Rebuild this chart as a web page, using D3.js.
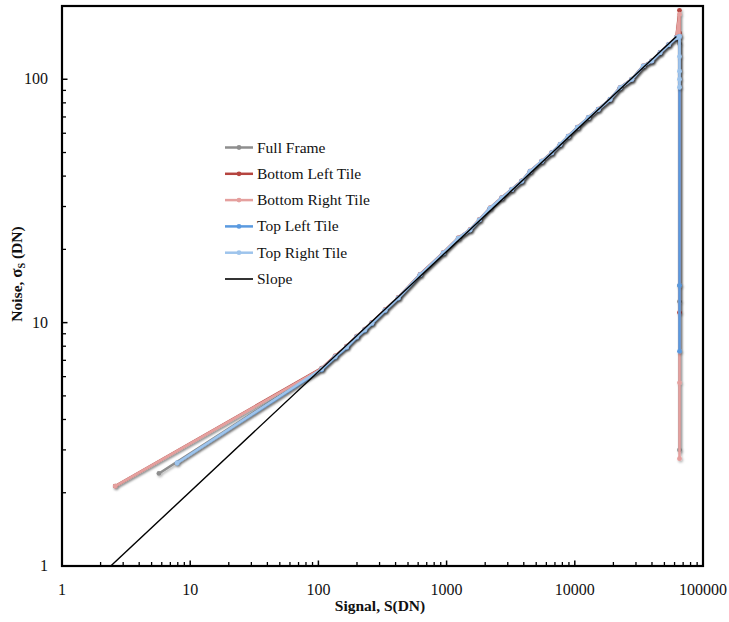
<!DOCTYPE html>
<html>
<head>
<meta charset="utf-8">
<script src="https://cdn.jsdelivr.net/npm/d3@7"></script>
<style>
  html, body { margin: 0; padding: 0; background: #fff; }
  svg { display: block; }
  text { font-family: "Liberation Serif", "Times New Roman", serif; fill: #111; }
</style>
</head>
<body>
<svg id="chart" width="729" height="622"></svg>
<script>
// ---------- data ----------
const seriesNames = ["Full Frame", "Bottom Left Tile", "Bottom Right Tile", "Top Left Tile", "Top Right Tile"];
const seriesColors = ["#8e8e8e", "#b5443f", "#e5a09e", "#5a9ae0", "#9ec4ec"];

// first (dark) exposure point of each series
const lowSignal = [5.7, 2.6, 2.6, 7.9, 7.9];
const lowNoise  = [2.4, 2.13, 2.13, 2.65, 2.65];

// common signal levels along the shot-noise region
const signalLevels = [106, 135, 166, 199, 230, 261, 331, 420, 621, 942, 1234, 1523, 1800, 2181, 2692, 3221, 3853,
  4477, 5521, 6607, 7673, 8892, 10500, 12740, 15250, 18830, 22530, 27790, 34200, 39810, 46240, 54000, 62000];

const fullFrameNoise   = [6.45, 7.25, 7.95, 8.7, 9.35, 9.95, 11.2, 12.6, 15.7, 19.3, 22.2, 24.0, 26.4, 29.5, 32.5, 35.2, 38.1,
  41.8, 45.9, 49.7, 53.8, 58.1, 63.2, 69.2, 74.9, 82.2, 91.8, 99.3, 112.5, 118.2, 127.5, 137.5, 146];
const bottomLeftNoise  = [6.5, 7.3, 8.0, 8.8, 9.4, 10.0, 11.3, 12.7, 15.8, 19.4, 22.3, 24.1, 26.5, 29.6, 32.6, 35.3, 38.2,
  41.9, 46.1, 49.9, 54.0, 58.4, 63.5, 69.6, 75.3, 82.7, 92.4, 100, 113.5, 119, 128.8, 139, 149];
const bottomRightNoise = [6.47, 7.28, 7.98, 8.78, 9.38, 9.98, 11.28, 12.68, 15.78, 19.38, 22.28, 24.08, 26.48, 29.58, 32.58, 35.28, 38.18,
  41.88, 46.08, 49.88, 53.98, 58.38, 63.48, 69.58, 75.28, 82.68, 92.38, 99.9, 113.4, 118.9, 128.6, 138.8, 148.5];
const topLeftNoise     = [6.4, 7.2, 7.9, 8.7, 9.3, 9.9, 11.2, 12.6, 15.7, 19.3, 22.2, 24.0, 26.4, 29.5, 32.5, 35.2, 38.1,
  41.8, 46.0, 49.8, 53.9, 58.3, 63.4, 69.5, 75.2, 82.6, 92.2, 99.8, 113.3, 118.8, 128.5, 138.6, 148];
const topRightNoise    = [6.45, 7.25, 7.95, 8.75, 9.35, 9.95, 11.25, 12.65, 15.75, 19.35, 22.25, 24.05, 26.45, 29.55, 32.55, 35.25, 38.15,
  41.85, 46.05, 49.85, 53.95, 58.35, 63.45, 69.55, 75.25, 82.65, 92.3, 99.9, 113.4, 118.9, 128.6, 138.8, 148.3];

// saturated exposures (all at full scale)
const saturationSignal = 65535;
const fullFrameTail   = [140, 14.2, 12.2, 3.0];
const bottomLeftTail  = [192, 155, 11];
const bottomRightTail = [185, 150, 5.66, 2.76];
const topLeftTail     = [150, 14.2, 7.62];
const topRightTail    = [150, 124, 108, 100, 92.7];

// reference slope line endpoints
const slopeSignal = [2.4, 62000];
const slopeNoise  = [1, 150];

const xTickValues = [1, 10, 100, 1000, 10000, 100000];
const yTickValues = [1, 10, 100];

// ---------- build ----------
const noiseArrays = [fullFrameNoise, bottomLeftNoise, bottomRightNoise, topLeftNoise, topRightNoise];
const tailArrays = [fullFrameTail, bottomLeftTail, bottomRightTail, topLeftTail, topRightTail];
const series = seriesNames.map((name, i) => {
  const pts = [[lowSignal[i], lowNoise[i]]];
  signalLevels.forEach((s, j) => pts.push([s, noiseArrays[i][j]]));
  tailArrays[i].forEach(n => pts.push([saturationSignal, n]));
  return { name, color: seriesColors[i], pts };
});

const svg = d3.select("#chart");
const L = 62, R = 703, T = 6, B = 566;
const x = d3.scaleLog().domain([1, 100000]).range([L, R]);
const y = d3.scaleLog().domain([1, 200]).range([B, T]);

const defs = svg.append("defs");
const f = defs.append("filter").attr("id", "shadow").attr("x", "-20%").attr("y", "-20%").attr("width", "140%").attr("height", "140%");
f.append("feDropShadow").attr("dx", 1.2).attr("dy", 1.5).attr("stdDeviation", 1.1)
  .attr("flood-color", "#000").attr("flood-opacity", 0.3);
defs.append("clipPath").attr("id", "clip").append("rect")
  .attr("x", L).attr("y", T).attr("width", R - L).attr("height", B - T);

// minor ticks
const minorX = [];
for (let d = 1; d < 100000; d *= 10) for (let k = 2; k <= 9; k++) minorX.push(d * k);
const minorY = [];
for (let d = 1; d < 200; d *= 10) for (let k = 2; k <= 9; k++) if (d * k <= 200) minorY.push(d * k);

const axisG = svg.append("g");
axisG.selectAll(".mx").data(minorX).enter().append("line")
  .attr("x1", d => x(d)).attr("x2", d => x(d)).attr("y1", B).attr("y2", B - 4)
  .attr("stroke", "#000").attr("stroke-width", 1.3);
axisG.selectAll(".Mx").data(xTickValues).enter().append("line")
  .attr("x1", d => x(d)).attr("x2", d => x(d)).attr("y1", B).attr("y2", B - 5.5)
  .attr("stroke", "#000").attr("stroke-width", 1.5);
axisG.selectAll(".my").data(minorY).enter().append("line")
  .attr("y1", d => y(d)).attr("y2", d => y(d)).attr("x1", L).attr("x2", L + 4)
  .attr("stroke", "#000").attr("stroke-width", 1.3);
axisG.selectAll(".My").data(yTickValues).enter().append("line")
  .attr("y1", d => y(d)).attr("y2", d => y(d)).attr("x1", L).attr("x2", L + 5.5)
  .attr("stroke", "#000").attr("stroke-width", 1.5);

// tick labels
axisG.selectAll(".xl").data(xTickValues).enter().append("text")
  .attr("x", d => x(d)).attr("y", B + 29).attr("text-anchor", "middle")
  .style("font-size", "16px").text(d => d3.format("d")(d));
axisG.selectAll(".yl").data(yTickValues).enter().append("text")
  .attr("x", L - 14).attr("y", d => y(d) + 5).attr("text-anchor", "end")
  .style("font-size", "16px").text(d => d3.format("d")(d));

// plot content
const plot = svg.append("g").attr("clip-path", "url(#clip)");
const line = d3.line().x(d => x(d[0])).y(d => y(d[1]));

series.forEach(s => {
  const g = plot.append("g").attr("filter", "url(#shadow)");
  g.append("path").datum(s.pts).attr("d", line)
    .attr("fill", "none").attr("stroke", s.color).attr("stroke-width", 2.5).attr("stroke-linejoin", "round");
  g.selectAll("circle").data(s.pts).enter().append("circle")
    .attr("cx", d => x(d[0])).attr("cy", d => y(d[1])).attr("r", 2.4).attr("fill", s.color);
});

// slope line
plot.append("path").datum(slopeSignal.map((s, i) => [s, slopeNoise[i]]))
  .attr("d", line).attr("fill", "none").attr("stroke", "#000").attr("stroke-width", 1.4);

// frame
svg.append("rect").attr("x", L).attr("y", T).attr("width", R - L).attr("height", B - T)
  .attr("fill", "none").attr("stroke", "#000").attr("stroke-width", 2.2);

// axis titles
svg.append("text").attr("x", 380).attr("y", 611).attr("text-anchor", "middle")
  .style("font-size", "15.5px").style("font-weight", "bold").text("Signal, S(DN)");
const yt = svg.append("text").attr("transform", "translate(22,274) rotate(-90)").attr("text-anchor", "middle")
  .style("font-size", "15.5px").style("font-weight", "bold");
yt.append("tspan").text("Noise, ");
yt.append("tspan").style("font-size", "17px").text("σ");
yt.append("tspan").attr("dy", 3).style("font-size", "10px").text("S");
yt.append("tspan").attr("dy", -3).text(" (DN)");

// legend
const legendNames = seriesNames.concat(["Slope"]);
const legendColors = seriesColors.concat(["#000"]);
const lg = svg.append("g");
legendNames.forEach((n, i) => {
  const yy = 147.5 + i * 26.3;
  lg.append("line").attr("x1", 225).attr("x2", 253).attr("y1", yy).attr("y2", yy)
    .attr("stroke", legendColors[i]).attr("stroke-width", i < 5 ? 2.5 : 1.6);
  if (i < 5) lg.append("circle").attr("cx", 239).attr("cy", yy).attr("r", 2.4).attr("fill", legendColors[i]);
  lg.append("text").attr("x", 257).attr("y", yy + 5).style("font-size", "15.5px").text(n);
});
</script>
</body>
</html>
